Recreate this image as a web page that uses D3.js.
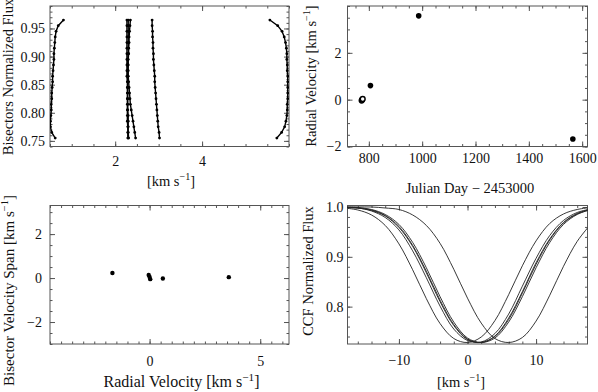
<!DOCTYPE html>
<html>
<head>
<meta charset="utf-8">
<script src="https://cdn.jsdelivr.net/npm/d3@7"></script>
<style>
body { margin: 0; background: #fff; }
</style>
</head>
<body>
<script>
// bisectors: flux levels and x position of each bisector
var bisFlux = [0.755,0.765,0.775,0.785,0.795,0.805,0.815,0.825,0.835,0.845,0.855,0.865,0.875,0.885,0.895,0.905,0.915,0.925,0.935,0.945,0.955,0.965];
var bis1 = [0.62,0.54,0.51,0.51,0.52,0.53,0.53,0.54,0.54,0.55,0.56,0.56,0.57,0.58,0.59,0.59,0.60,0.61,0.62,0.64,0.69,0.81];
var bis2 = [2.29,2.29,2.29,2.28,2.28,2.28,2.28,2.28,2.28,2.28,2.28,2.27,2.27,2.27,2.27,2.27,2.27,2.27,2.27,2.27,2.27,2.27];
var bis3 = [2.31,2.30,2.30,2.30,2.30,2.29,2.29,2.29,2.29,2.29,2.29,2.29,2.29,2.29,2.29,2.30,2.30,2.30,2.30,2.30,2.30,2.30];
var bis4 = [2.47,2.45,2.43,2.41,2.39,2.37,2.35,2.34,2.33,2.32,2.31,2.30,2.30,2.30,2.30,2.31,2.31,2.32,2.32,2.33,2.34,2.35];
var bis5 = [3.02,3.01,2.99,2.98,2.97,2.96,2.95,2.94,2.93,2.92,2.91,2.91,2.90,2.89,2.88,2.88,2.87,2.87,2.86,2.86,2.85,2.85];
var bis6 = [5.72,5.83,5.90,5.93,5.95,5.96,5.96,5.97,5.97,5.97,5.97,5.97,5.96,5.96,5.95,5.95,5.94,5.92,5.89,5.84,5.74,5.56];

// radial velocities and bisector velocity span
var jd = [773, 775, 777, 806, 987, 1565];
var rv = [-0.04, 0.0, 0.03, 0.6, 3.58, -1.68];
var bvs = [0.14, 0.05, -0.05, -0.02, 0.04, 0.23];
var openPt = [true, true, true, false, false, false];

// cross-correlation functions
var ccfVel = [-18,-16,-14,-12,-10,-8,-6,-4,-2,0,2,4,6,8,10,12,14,16,18];
var ccf1 = [0.998,0.994,0.984,0.963,0.926,0.874,0.816,0.766,0.736,0.728,0.739,0.772,0.824,0.882,0.932,0.967,0.986,0.995,0.999];
var ccf2 = [0.999,0.998,0.992,0.979,0.954,0.912,0.858,0.801,0.755,0.732,0.729,0.746,0.785,0.841,0.897,0.943,0.973,0.989,0.996];
var ccf3 = [0.999,0.998,0.993,0.982,0.959,0.921,0.868,0.810,0.762,0.734,0.728,0.741,0.777,0.830,0.888,0.936,0.969,0.987,0.996];
var ccf4 = [0.999,0.998,0.994,0.983,0.961,0.923,0.871,0.813,0.764,0.735,0.728,0.740,0.774,0.827,0.885,0.934,0.968,0.986,0.995];
var ccf5 = [1.000,0.999,0.995,0.985,0.965,0.929,0.878,0.820,0.769,0.737,0.728,0.737,0.769,0.820,0.878,0.929,0.965,0.985,0.995];
var ccf6 = [1.000,1.000,1.000,0.998,0.995,0.984,0.963,0.927,0.875,0.817,0.767,0.736,0.728,0.738,0.771,0.823,0.881,0.931,0.966];

var frameCol = "#555";
var serif = "'Liberation Serif', 'Times New Roman', Times, serif";

var svg = d3.select("body").append("svg")
    .attr("width", 598)
    .attr("height", 392)
    .attr("font-family", serif)
    .attr("font-size", 14.5);

function range(a, b, s) {
    var out = [];
    for (var v = a; v <= b + s / 1000; v += s) out.push(+v.toFixed(4));
    return out;
}

// build a framed panel with inward ticks on all four sides
function panel(o) {
    var w = o.box[2] - o.box[0], h = o.box[3] - o.box[1];
    var g = svg.append("g").attr("transform", "translate(" + o.box[0] + "," + o.box[1] + ")");
    var x = d3.scaleLinear().domain(o.xDom).range([0, w]);
    var y = d3.scaleLinear().domain(o.yDom).range([h, 0]);

    g.append("g").attr("transform", "translate(0," + h + ")")
        .call(d3.axisBottom(x).tickValues(o.xMajor).tickSize(-5).tickPadding(o.xPad).tickFormat(o.xFmt));
    g.append("g").attr("transform", "translate(0," + h + ")")
        .call(d3.axisBottom(x).tickValues(o.xMinor).tickSize(-2.5).tickFormat(""));
    g.append("g").call(d3.axisTop(x).tickValues(o.xMajor).tickSize(-5).tickFormat(""));
    g.append("g").call(d3.axisTop(x).tickValues(o.xMinor).tickSize(-2.5).tickFormat(""));
    g.append("g")
        .call(d3.axisLeft(y).tickValues(o.yMajor).tickSize(-5).tickPadding(o.yPad).tickFormat(o.yFmt));
    g.append("g").call(d3.axisLeft(y).tickValues(o.yMinor).tickSize(-2.5).tickFormat(""));
    g.append("g").attr("transform", "translate(" + w + ",0)")
        .call(d3.axisRight(y).tickValues(o.yMajor).tickSize(-5).tickFormat(""));
    g.append("g").attr("transform", "translate(" + w + ",0)")
        .call(d3.axisRight(y).tickValues(o.yMinor).tickSize(-2.5).tickFormat(""));

    g.selectAll("g").attr("font-family", serif).attr("font-size", 14);
    g.selectAll(".domain").remove();
    g.selectAll(".tick line").attr("stroke", frameCol);
    g.selectAll(".tick text").attr("fill", "#111");

    g.append("rect").attr("width", w).attr("height", h)
        .attr("fill", "none").attr("stroke", frameCol).attr("stroke-width", 1);

    var clipId = "clip" + o.id;
    g.append("clipPath").attr("id", clipId)
        .append("rect").attr("width", w).attr("height", h);
    var plot = g.append("g").attr("clip-path", "url(#" + clipId + ")");

    return {g: g, x: x, y: y, plot: plot, w: w, h: h};
}

function kmTitle(sel, prefix) {
    sel.append("tspan").text(prefix + "[km s");
    sel.append("tspan").attr("dy", -6).attr("font-size", "0.7em").text("\u22121");
    sel.append("tspan").attr("dy", 6).text("]");
}

function xTitle(p, cx, by, prefix, fs) {
    p.g.append("text").attr("x", cx).attr("y", by).attr("text-anchor", "middle")
        .attr("font-size", fs || 14.5).attr("fill", "#111").call(kmTitle, prefix);
}

function yTitle(p, bx, cy, cb, fs) {
    p.g.append("text").attr("transform", "translate(" + bx + "," + cy + ") rotate(-90)")
        .attr("text-anchor", "middle").attr("font-size", fs || 14.5).attr("fill", "#111").call(cb);
}

// ---- panel 1: bisectors
var p1 = panel({
    id: 1, box: [50, 6, 289, 146.5],
    xDom: [0.5, 6.0], yDom: [0.74, 0.99],
    xMajor: [2, 4], xMinor: range(0.5, 6, 0.5), xPad: 10, xFmt: d3.format("d"),
    yMajor: range(0.75, 0.95, 0.05), yMinor: range(0.74, 0.99, 0.01), yPad: 5, yFmt: d3.format(".2f")
});
var bisLine = d3.line()
    .x(function(d) { return p1.x(d[0]); })
    .y(function(d) { return p1.y(d[1]); });
[bis1, bis2, bis3, bis4, bis5, bis6].forEach(function(b) {
    var pts = b.map(function(v, i) { return [v, bisFlux[i]]; });
    p1.plot.append("path").datum(pts).attr("d", bisLine)
        .attr("fill", "none").attr("stroke", "#000").attr("stroke-width", 1.4);
    p1.plot.selectAll(null).data(pts).enter().append("circle")
        .attr("cx", function(d) { return p1.x(d[0]); })
        .attr("cy", function(d) { return p1.y(d[1]); })
        .attr("r", 1.4).attr("fill", "#000");
});
xTitle(p1, 121, 180, "");
yTitle(p1, -37, 71, function(t) { t.text("Bisectors Normalized Flux"); });

// ---- panel 2: radial velocity vs time
var p2 = panel({
    id: 2, box: [347.5, 6, 587.5, 146.5],
    xDom: [720, 1620], yDom: [-2, 4],
    xMajor: range(800, 1600, 200), xMinor: range(750, 1600, 50), xPad: 7, xFmt: d3.format("d"),
    yMajor: [-2, 0, 2], yMinor: range(-2, 4, 0.5), yPad: 6, yFmt: d3.format("d")
});
p2.g.selectAll(null).data(jd).enter().append("circle")
    .attr("cx", function(d) { return p2.x(d); })
    .attr("cy", function(d, i) { return p2.y(rv[i]); })
    .attr("r", function(d, i) { return openPt[i] ? 2.4 : 2.8; })
    .attr("fill", function(d, i) { return openPt[i] ? "#fff" : "#000"; })
    .attr("stroke", "#000")
    .attr("stroke-width", function(d, i) { return openPt[i] ? 1.4 : 0; });
p2.g.append("text").attr("x", 122.5).attr("y", 187).attr("text-anchor", "middle")
    .attr("fill", "#111").text("Julian Day \u2212 2453000");
yTitle(p2, -32, 70, function(t) { kmTitle(t, "Radial Velocity "); });

// ---- panel 3: bisector span vs radial velocity
var p3 = panel({
    id: 3, box: [50, 205.5, 289, 344],
    xDom: [-4.5, 6.3], yDom: [-3, 3.3],
    xMajor: [0, 5], xMinor: range(-4.5, 6, 0.5), xPad: 12, xFmt: d3.format("d"),
    yMajor: [-2, 0, 2], yMinor: range(-3, 3, 0.5), yPad: 8, yFmt: d3.format("d")
});
p3.g.selectAll(null).data(rv).enter().append("circle")
    .attr("cx", function(d) { return p3.x(d); })
    .attr("cy", function(d, i) { return p3.y(bvs[i]); })
    .attr("r", 2.2).attr("fill", "#000");
xTitle(p3, 131.5, 181.5, "Radial Velocity ", 16);
yTitle(p3, -36, 85, function(t) { kmTitle(t, "Bisector Velocity Span "); }, 15);

// ---- panel 4: CCFs
var p4 = panel({
    id: 4, box: [347.5, 205.5, 587.5, 344],
    xDom: [-17.5, 17.5], yDom: [0.725, 1.003],
    xMajor: [-10, 0, 10], xMinor: range(-16, 16, 2), xPad: 11, xFmt: d3.format("d"),
    yMajor: [0.8, 0.9, 1.0], yMinor: range(0.74, 1.0, 0.02), yPad: 4, yFmt: d3.format(".1f")
});
var ccfLine = d3.line()
    .x(function(d, i) { return p4.x(ccfVel[i]); })
    .y(function(d) { return p4.y(d); })
    .curve(d3.curveCatmullRom);
[ccf1, ccf2, ccf3, ccf4, ccf5, ccf6].forEach(function(c) {
    p4.plot.append("path").datum(c).attr("d", ccfLine)
        .attr("fill", "none").attr("stroke", "#222").attr("stroke-width", 0.9);
});
xTitle(p4, 113.5, 181, "");
yTitle(p4, -34.5, 65.5, function(t) { t.text("CCF Normalized Flux"); });
</script>
</body>
</html>
